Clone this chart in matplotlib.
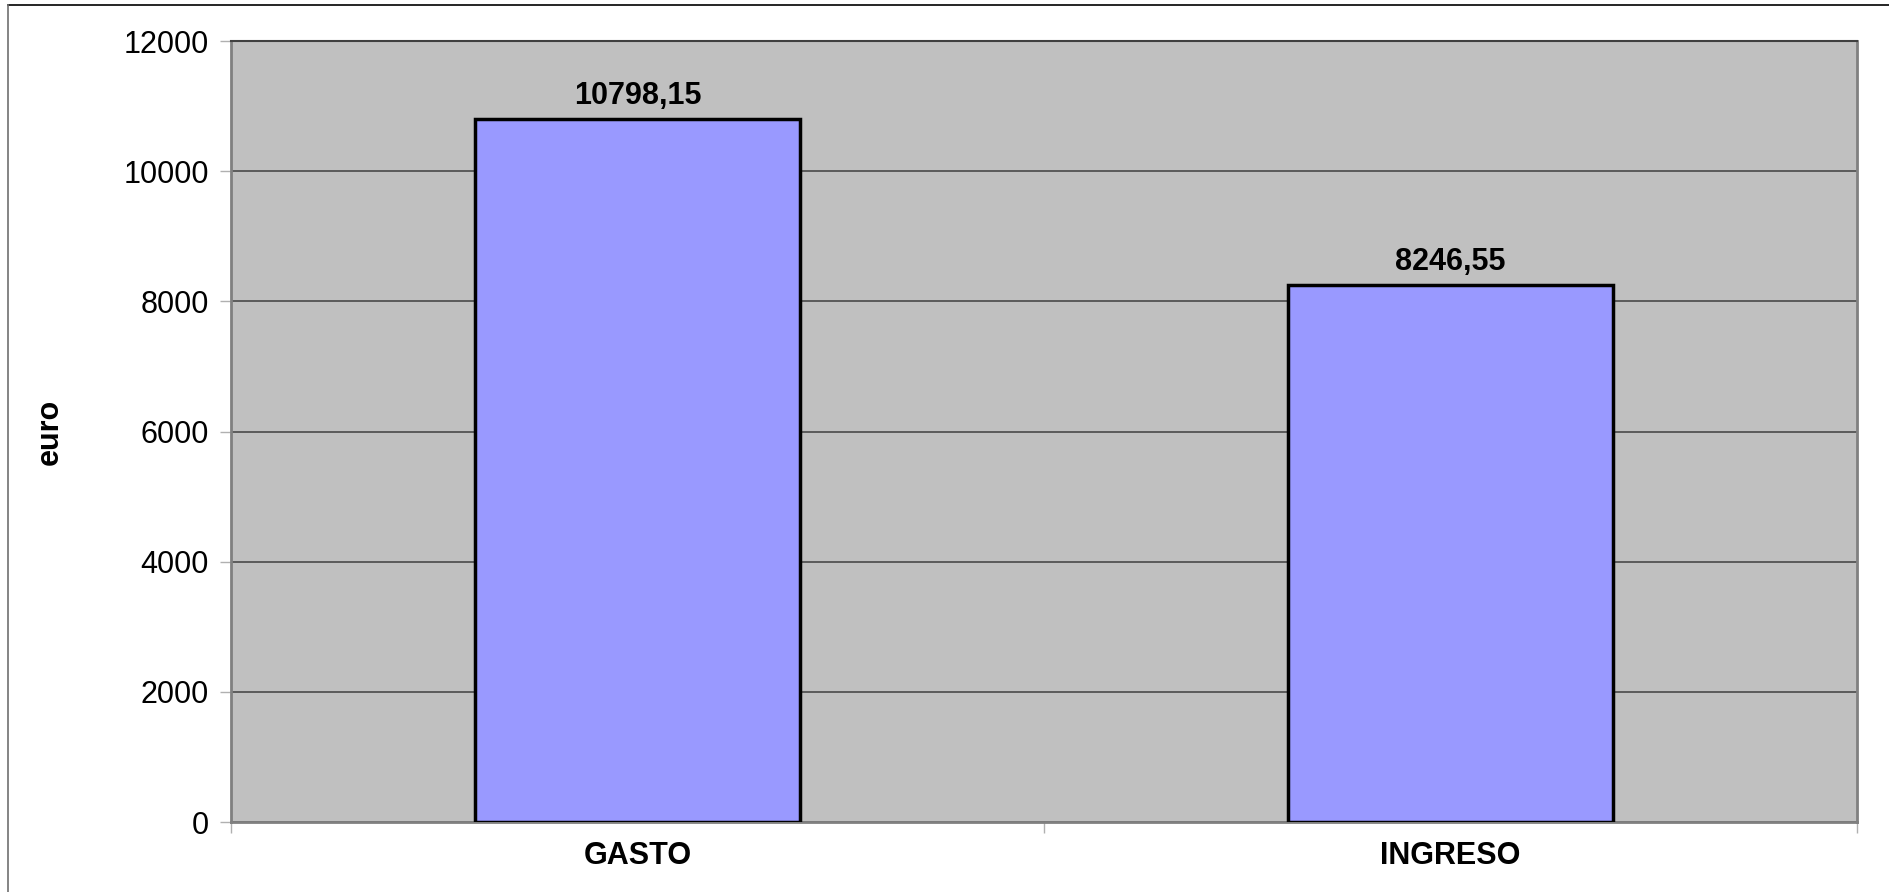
import matplotlib
matplotlib.use('Agg')
import matplotlib.pyplot as plt
from matplotlib.lines import Line2D

plt.rcParams['font.family'] = ['Liberation Sans', 'DejaVu Sans']

# ---- data ----
categories = ['GASTO', 'INGRESO']
values = [10798.15, 8246.55]
value_labels = ['10798,15', '8246,55']
yticks = [0, 2000, 4000, 6000, 8000, 10000, 12000]

W, H, DPI = 1890, 892, 100
FS = 22
fig = plt.figure(figsize=(W / DPI, H / DPI), dpi=DPI)
ax = fig.add_axes([231 / W, 1 - 822 / H, (1857 - 231) / W, (822 - 41) / H])

ax.set_facecolor('#c0c0c0')
x = list(range(len(categories)))
ax.bar(x, values, width=0.4, color='#9999ff', edgecolor='black', linewidth=2.5, zorder=3)

for xi, v, lab in zip(x, values, value_labels):
    ax.annotate(lab, (xi, v), xytext=(0, 11), textcoords='offset points',
                ha='center', va='baseline', fontsize=FS, fontweight='bold', zorder=4)

ax.set_xlim(-0.5, len(categories) - 0.5)
ax.set_ylim(0, 12000)
ax.set_yticks(yticks)
ax.set_yticklabels([str(t) for t in yticks], fontsize=FS)
ax.yaxis.grid(True, color='#404040', linewidth=1.1, zorder=1)
ax.set_axisbelow(True)

# category labels, tick marks on category boundaries
ax.set_xticks(x)
ax.set_xticklabels(categories, fontsize=FS, fontweight='bold')
ax.tick_params(axis='x', length=0, pad=14)
ax.set_xticks([-0.5, 0.5, 1.5], minor=True)
ax.tick_params(axis='x', which='minor', length=8, color='#b0b0b0', width=1)
ax.tick_params(axis='y', length=8, color='#b0b0b0', width=1, pad=8)

for s in ['left', 'bottom', 'right']:
    ax.spines[s].set_color('#808080')
    ax.spines[s].set_linewidth(2)
ax.spines['top'].set_color('#404040')
ax.spines['top'].set_linewidth(1.5)

ax.set_ylabel('euro', fontsize=FS, fontweight='bold')
ax.yaxis.set_label_coords((65 - 231) / (1857 - 231), 0.5)

# outer frame (top and left edges visible)
fig.lines.append(Line2D([8 / W, 1889 / W], [1 - 5 / H, 1 - 5 / H],
                        transform=fig.transFigure, color='black', linewidth=1.2))
fig.lines.append(Line2D([8 / W, 8 / W], [0, 1 - 5 / H],
                        transform=fig.transFigure, color='#707070', linewidth=1.2))

fig.savefig('out.png', dpi=DPI)
